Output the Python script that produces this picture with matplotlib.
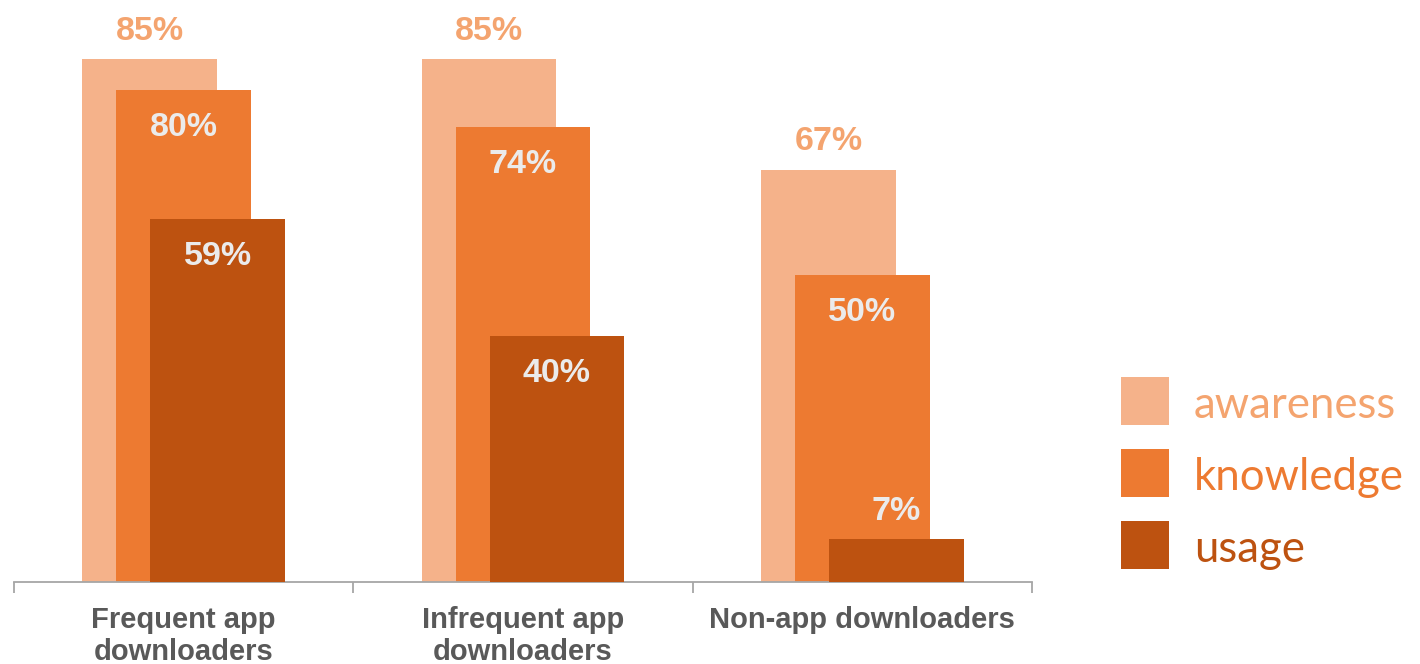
import matplotlib.pyplot as plt
from matplotlib.patches import Rectangle
import numpy as np

# survey results, percent of respondents
groups = ['Frequent app\ndownloaders', 'Infrequent app\ndownloaders', 'Non-app downloaders']
series = ['awareness', 'knowledge', 'usage']
awareness = [85, 85, 67]
knowledge = [80, 74, 50]
usage = [59, 40, 7]

bar_colors = ['#F5B28A', '#ED7A31', '#BD5210']
text_colors = ['#F4A46F', '#ED7A31', '#BD5210']
inside_color = '#EBEBEB'

W, H = 1420, 664
fig = plt.figure(figsize=(W / 100, H / 100), dpi=100)
ax = fig.add_axes([14 / W, 82 / H, 1018 / W, 582 / H])

x = np.arange(len(groups))
offs = [-0.1, 0.0, 0.1]
w = 0.397
vals = [awareness, knowledge, usage]

for k in range(3):
    ax.bar(x + offs[k], vals[k], width=w, color=bar_colors[k], zorder=k + 1)

font_lbl = dict(family='Liberation Sans', weight='bold', fontsize=24.5)
for i in range(len(groups)):
    # awareness figure sits above its bar
    ax.annotate(f'{awareness[i]}%', (x[i] + offs[0], awareness[i]), xytext=(0, 28),
                textcoords='offset pixels', ha='center', va='center',
                color=text_colors[0], **font_lbl)
    ax.annotate(f'{knowledge[i]}%', (x[i] + offs[1], knowledge[i]), xytext=(0, -38),
                textcoords='offset pixels', ha='center', va='center',
                color=inside_color, zorder=10, **font_lbl)
    # short usage bar: put the number above it
    dy = -37 if usage[i] > 15 else 27
    ax.annotate(f'{usage[i]}%', (x[i] + offs[2], usage[i]), xytext=(0, dy),
                textcoords='offset pixels', ha='center', va='center',
                color=inside_color, zorder=10, **font_lbl)

ax.set_xlim(-0.5, 2.5)
ax.set_ylim(0, 582 / 6.15)
for s in ['top', 'right', 'left']:
    ax.spines[s].set_visible(False)
ax.spines['bottom'].set_color('#A6A6A6')
ax.spines['bottom'].set_linewidth(1.3)
ax.set_yticks([])
ax.set_xticks([-0.5, 0.5, 1.5, 2.5])
ax.set_xticklabels([])
ax.tick_params(axis='x', length=8, width=1.3, color='#A6A6A6', direction='out')
ax.set_xticks(x, minor=True)
ax.set_xticklabels(groups, minor=True, family='Liberation Sans', weight='bold',
                   fontsize=21, color='#595959', linespacing=1.2)
ax.tick_params(axis='x', which='minor', length=0, pad=17)

# legend: coloured squares with matching text
for k in range(3):
    y_top = 377 + 72 * k
    fig.add_artist(Rectangle((1121 / W, 1 - (y_top + 48) / H), 48 / W, 48 / H,
                             transform=fig.transFigure, facecolor=bar_colors[k],
                             edgecolor='none'))
    fig.text(1194 / W, 1 - (y_top + 24) / H, series[k], family='Lato', fontsize=31.5,
             color=text_colors[k], ha='left', va='center_baseline')

fig.savefig('out.png', dpi=100)
